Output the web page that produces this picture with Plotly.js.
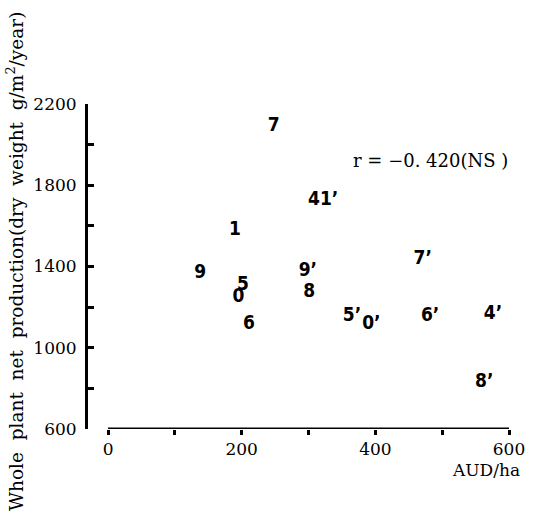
<!DOCTYPE html>
<html><head><meta charset="utf-8">
<script src="https://cdn.plot.ly/plotly-3.0.1.min.js"></script>
<style>html,body{margin:0;padding:0;background:#fff}</style>
</head><body><div id="chart" style="width:536px;height:524px"></div>
<script>
const labels = ["7","41’","1","7’","9","5","0","9’","8","6","5’","0’","6’","4’","8’"];
const audPerHa = [248,322,190,471,138,202,195,299,301,211,365,394,482,576,563];
const production = [2092,1727,1580,1437,1368,1309,1250,1378,1274,1117,1156,1117,1156,1166,831];
const xTickVals = [0,100,200,300,400,500,600];
const xTickText = ["0","","200","","400","","600"];
const yTickVals = [600,800,1000,1200,1400,1600,1800,2000,2200];
const yTickText = ["600","","1000","","1400","","1800","","2200"];
const serif = "DejaVu Serif, Liberation Serif, serif";

const trace = {
  x: audPerHa, y: production, text: labels,
  mode: "text", type: "scatter",
  textfont: {family: "DejaVu Sans Condensed, Liberation Sans Narrow, Liberation Sans, sans-serif", size: 19, color: "#000", weight: "bold"},
  textposition: "middle center", cliponaxis: false, hoverinfo: "none"
};
const layout = {
  width: 536, height: 524,
  margin: {l: 88, r: 27, t: 104, b: 95},
  paper_bgcolor: "#fff", plot_bgcolor: "#fff",
  showlegend: false,
  xaxis: {
    range: [-30, 600], showgrid: false, zeroline: false, showline: false,
    tickmode: "array", tickvals: xTickVals, ticktext: xTickText,
    ticks: "outside", ticklen: 5, tickwidth: 3, tickcolor: "#000",
    tickfont: {family: serif, size: 17, color: "#000"}
  },
  yaxis: {
    range: [600, 2200], showgrid: false, zeroline: false,
    showline: true, linewidth: 3, linecolor: "#000",
    tickmode: "array", tickvals: yTickVals, ticktext: yTickText,
    ticks: "inside", ticklen: 6, tickwidth: 3, tickcolor: "#000",
    ticklabelstandoff: 5,
    tickfont: {family: serif, size: 17, color: "#000"}
  },
  shapes: [{type: "line", xref: "x", yref: "y", x0: 0, x1: 600, y0: 600, y1: 600, line: {color: "#000", width: 3}}],
  annotations: [
    {text: "r = −0. 420(NS )", xref: "x", yref: "y", x: 482, y: 1924, showarrow: false,
     font: {family: serif, size: 18, color: "#000"}},
    {text: "AUD/ha", xref: "paper", yref: "paper", x: (522-88)/421, y: (429-470)/325, xanchor: "right", yanchor: "middle", showarrow: false,
     font: {family: serif, size: 17, color: "#000"}},
    {text: "Whole  plant  net  production(dry  weight  g/m<sup>2</sup>/year)", xref: "paper", yref: "paper",
     x: (15-88)/421, y: (429-262)/325, xanchor: "center", yanchor: "middle", textangle: -90, showarrow: false,
     font: {family: serif, size: 18.5, color: "#000"}}
  ]
};
Plotly.newPlot("chart", [trace], layout, {displayModeBar: false, staticPlot: true});
</script></body></html>
